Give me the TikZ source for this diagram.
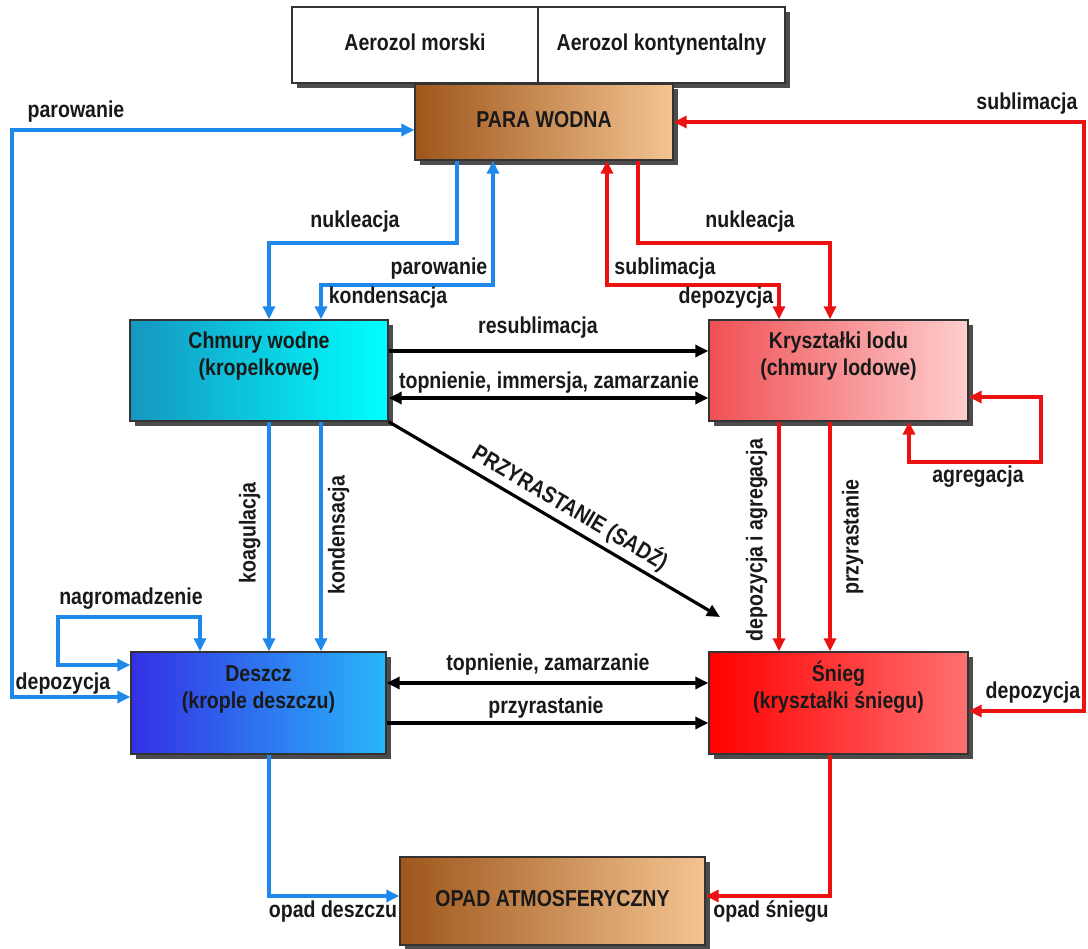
\documentclass[tikz,border=0pt]{standalone}
\usepackage{fontspec}
\setmainfont{Liberation Sans}[FakeStretch=0.85]
\usetikzlibrary{arrows.meta, shadows}

\definecolor{lineblue}{RGB}{30,136,235}
\definecolor{linered}{RGB}{236,18,18}
\definecolor{brownL}{RGB}{158,86,26}
\definecolor{brownR}{RGB}{244,196,146}

\begin{document}
\begin{tikzpicture}[x=1pt, y=-1pt,
  >={Triangle[length=13pt,width=12pt]},
  every node/.style={font=\fontsize{23}{27}\selectfont\bfseries, text=black!90,
    text height=16pt, text depth=5pt, inner sep=0pt},
  box/.style={draw=black!80, line width=1.4pt, align=center,
    drop shadow={shadow xshift=5pt, shadow yshift=-5pt, fill=black!70, opacity=1}},
  blueline/.style={draw=lineblue, line width=3.2pt},
  redline/.style={draw=linered, line width=3.2pt},
  blackline/.style={draw=black, line width=3.2pt}]

  \useasboundingbox (0,0) rectangle (1088,949);

  % boxes
  \node[box, fill=white, minimum width=246pt, minimum height=76pt] (morski) at (415,45) {Aerozol morski};
  \node[box, fill=white, minimum width=247pt, minimum height=76pt] (kontyn) at (661.5,45) {Aerozol kontynentalny};
  \node[box, left color=brownL, right color=brownR, minimum width=258pt, minimum height=76pt] (para) at (544,122) {PARA WODNA};
  \node[box, left color={rgb,255:red,22;green,150;blue,192}, right color={rgb,255:red,0;green,255;blue,255},
    minimum width=258pt, minimum height=101pt] (chmury) at (259,370.5) {Chmury wodne\\(kropelkowe)};
  \node[box, left color={rgb,255:red,240;green,80;blue,84}, right color={rgb,255:red,255;green,206;blue,206},
    minimum width=259pt, minimum height=101pt] (lod) at (838.5,370.5) {Kryształki lodu\\(chmury lodowe)};
  \node[box, left color={rgb,255:red,52;green,48;blue,228}, right color={rgb,255:red,40;green,182;blue,250},
    minimum width=255pt, minimum height=102pt] (deszcz) at (258.5,703) {Deszcz\\(krople deszczu)};
  \node[box, left color={rgb,255:red,255;green,0;blue,0}, right color={rgb,255:red,255;green,112;blue,112},
    minimum width=259pt, minimum height=102pt] (snieg) at (838.5,703) {Śnieg\\(kryształki śniegu)};
  \node[box, left color=brownL, right color=brownR, minimum width=305pt, minimum height=88pt] (opad) at (552.5,901) {OPAD ATMOSFERYCZNY};

  \coordinate (lcorner) at (12,697);   % outer left bend
  \coordinate (rcorner) at (1084,711); % outer right bend
  \coordinate (sadz) at (720,617);     % end of the rime arrow

  % blue paths
  \draw[blueline, <->] ([yshift=-8pt]para.west) -| (lcorner) -- (deszcz.west |- lcorner);
  \draw[blueline, ->] (457,0 |- para.south) |- (269,243) -- (269,0 |- chmury.north);
  \draw[blueline, <->] (321,0 |- chmury.north) |- (493,285) -- (493,0 |- para.south);
  \draw[blueline, ->] (269,0 |- chmury.south) -- (269,0 |- deszcz.north);
  \draw[blueline, ->] (321,0 |- chmury.south) -- (321,0 |- deszcz.north);
  \draw[blueline, <->] (200,0 |- deszcz.north) |- (58,617) |- (deszcz.west |- 0,665);
  \draw[blueline, ->] (269,0 |- deszcz.south) |- (opad.west |- 0,896);

  % red paths
  \draw[redline, <->] (para.east) -| (rcorner) -- (snieg.east |- rcorner);
  \draw[redline, ->] (638,0 |- para.south) |- (830,243) -- (830,0 |- lod.north);
  \draw[redline, <->] (607,0 |- para.south) |- (779,285) -- (779,0 |- lod.north);
  \draw[redline, ->] (779,0 |- lod.south) -- (779,0 |- snieg.north);
  \draw[redline, ->] (830,0 |- lod.south) -- (830,0 |- snieg.north);
  \draw[redline, <->] (909,0 |- lod.south) |- (1041,462) |- (lod.east |- 0,397);
  \draw[redline, ->] (830,0 |- snieg.south) |- (opad.east |- 0,896);

  % black paths
  \draw[blackline, ->] (chmury.east |- 0,351) -- (lod.west |- 0,351);
  \draw[blackline, <->] (chmury.east |- 0,398) -- (lod.west |- 0,398);
  \draw[blackline, <->] (deszcz.east |- 0,683) -- (snieg.west |- 0,683);
  \draw[blackline, ->] (deszcz.east |- 0,723) -- (snieg.west |- 0,723);
  \draw[blackline, ->] (chmury.south east) -- node[pos=0.52, above=4pt, sloped] (sadzlbl) {PRZYRASTANIE (SADŹ)} (sadz);

  % labels
  \node (parL) at (76,112) {parowanie};
  \node (nukB) at (355,222) {nukleacja};
  \node (parM) at (439,269) {parowanie};
  \node (konM) at (388,298) {kondensacja};
  \node (nukR) at (750,222) {nukleacja};
  \node (subM) at (665,269) {sublimacja};
  \node (depM) at (726,298) {depozycja};
  \node (subR) at (1027,104) {sublimacja};
  \node (resub) at (538,328) {resublimacja};
  \node (topIm) at (549,383) {topnienie, immersja, zamarzanie};
  \node (agreg) at (978,477) {agregacja};
  \node (nagro) at (131,599) {nagromadzenie};
  \node (depL) at (63,684) {depozycja};
  \node (depR) at (1033,693) {depozycja};
  \node (topZa) at (548,665) {topnienie, zamarzanie};
  \node (przyB) at (546,708) {przyrastanie};
  \node (opadD) at (333,912) {opad deszczu};
  \node (opadS) at (771,912) {opad śniegu};
  \node[rotate=90] (koag) at (250,533) {koagulacja};
  \node[rotate=90] (konV) at (339,535) {kondensacja};
  \node[rotate=90] (depAg) at (757,540) {depozycja i agregacja};
  \node[rotate=90] (przyV) at (853,537) {przyrastanie};
\end{tikzpicture}
\end{document}
